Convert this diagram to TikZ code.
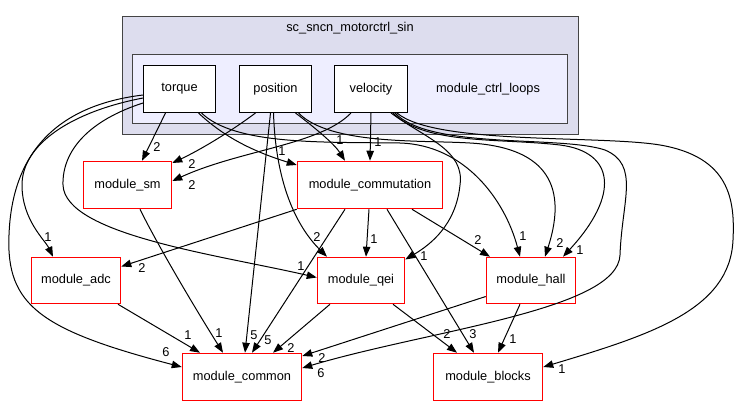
\documentclass[tikz,border=0pt]{standalone}
\usepackage{fontspec}
\setmainfont{Liberation Sans}
\usepackage{tikz}
\usepackage{xcolor}
\usetikzlibrary{positioning,arrows.meta,calc}

\definecolor{outerfill}{HTML}{DDDDEE}
\definecolor{innerfill}{HTML}{EEEEFF}
\definecolor{frame}{HTML}{444444}
\definecolor{modred}{HTML}{FF0000}

\begin{document}
\begin{tikzpicture}[x=0.75pt,y=-0.75pt,
    font=\fontsize{9.6}{11}\selectfont,
    dirbox/.style={draw=black,fill=white,line width=0.75pt,minimum height=35.25pt,minimum width=54pt},
    modbox/.style={fill=modred,text=black,minimum height=36pt,
      path picture={\fill[white] ($(path picture bounding box.north west)+(1.4,1.4)$)
        rectangle ($(path picture bounding box.south east)+(-1.4,-1.4)$);}},
    dep/.style={-{Triangle[length=7.5pt,width=5.6pt]},line width=0.75pt},
    num/.style={inner sep=0pt}]
  \useasboundingbox (0,0) rectangle (739,407);
  % clusters
  \draw[frame,fill=outerfill,line width=0.75pt] (122.5,16.5) rectangle (578.5,134.5);
  \draw[frame,fill=innerfill,line width=0.75pt] (132.5,54.5) rectangle (567.5,123.5);
  \node (sctitle) at (350,28) {sc\_sncn\_motorctrl\_sin};
  \node (looptitle) at (488,89) {module\_ctrl\_loops};
  % directories
  \node[dirbox] (torque) at (179.5,89) {torque};
  \node[dirbox] (position) at (275.5,89) {position};
  \node[dirbox,minimum width=54.75pt] (velocity) at (371,89) {velocity};
  \node[modbox,minimum width=66.75pt] (sm) at (127.5,185) {module\_sm};
  \node[modbox,minimum width=109.5pt] (commutation) at (370,185) {module\_commutation};
  \node[modbox,minimum width=67.5pt,minimum height=35.25pt] (adc) at (76,280.5) {module\_adc};
  \node[modbox,minimum width=66pt,minimum height=35.25pt] (qei) at (361,280.5) {module\_qei};
  \node[modbox,minimum width=67.5pt,minimum height=35.25pt] (hall) at (531,280.5) {module\_hall};
  \node[modbox,minimum width=90pt] (common) at (242,377) {module\_common};
  \node[modbox,minimum width=82.5pt] (blocks) at (488,377) {module\_blocks};
  % torque
  \draw[dep] ($(torque.south)+(-14,0)$) -- ($(sm.north)+(14.5,0)$);
  \draw[dep] ($(torque.west)+(0,9)$) .. controls (70,112) and (22,145) .. (22,185)
    .. controls (22,220) and (45,240) .. ($(adc.north)+(-23,0)$);
  \draw[dep] ($(torque.west)+(0,6)$) .. controls (60,105) and (12,150) .. (9,235)
    .. controls (6,305) and (40,330) .. ($(common.west)+(0,-10)$);
  \draw[dep] ($(torque.west)+(0,14)$) .. controls (90,120) and (62,150) .. (63,185)
    .. controls (65,235) and (220,255) .. ($(qei.west)+(0,-3)$);
  \draw[dep] ($(torque.south)+(19,0)$) .. controls (225,138) and (255,152) .. ($(commutation.west)+(0,-20)$);
  \draw[dep] ($(torque.south)+(22,0)$) .. controls (235,145) and (320,142) .. (400,143)
    .. controls (465,145) and (505,200) .. ($(hall.north)+(-11,0)$);
  % position
  \draw[dep] ($(position.south)+(-20,0)$) .. controls (230,132) and (200,150) .. ($(sm.east)+(0,-22)$);
  \draw[dep] ($(position.south)+(-5,0)$) -- ($(common.north)+(3,0)$);
  \draw[dep] ($(position.south)+(-2,0)$) .. controls (276,190) and (300,230) .. ($(qei.north)+(-34,0)$);
  \draw[dep] ($(position.south)+(20,0)$) .. controls (318,130) and (335,145) .. ($(commutation.north)+(-25,0)$);
  \draw[dep] ($(position.south)+(23,0)$) .. controls (330,145) and (420,140) .. (470,143)
    .. controls (540,147) and (570,180) .. ($(hall.north)+(14,0)$);
  % velocity
  \draw[dep] ($(velocity.south)+(-20,0)$) .. controls (320,145) and (240,150) .. ($(sm.east)+(0,-4)$);
  \draw[dep] (velocity.south) -- (commutation.north);
  \draw[dep] ($(velocity.south)+(20,0)$) .. controls (425,138) and (465,150) .. (460,185)
    .. controls (456,225) and (430,245) .. ($(qei.east)+(0,-21)$);
  \draw[dep] ($(velocity.south)+(22,0)$) .. controls (425,145) and (500,138) .. (560,145)
    .. controls (615,152) and (620,195) .. ($(hall.north)+(32,0)$);
  \draw[dep] ($(velocity.south)+(24,0)$) .. controls (430,150) and (560,135) .. (605,150)
    .. controls (640,165) and (622,200) .. (620,255)
    .. controls (618,310) and (430,330) .. ($(common.east)+(0,-9)$);
  \draw[dep] ($(velocity.south)+(26,0)$) .. controls (435,145) and (600,135) .. (660,145)
    .. controls (730,157) and (735,200) .. (733,240)
    .. controls (730,310) and (650,335) .. ($(blocks.east)+(0,-10)$);
  % module_commutation
  \draw[dep] (commutation.south west) -- ($(adc.east)+(0,-14)$);
  \draw[dep] ($(commutation.south)+(-25,0)$) -- ($(common.north)+(10,0)$);
  \draw[dep] ($(commutation.south)+(-1,0)$) -- ($(qei.north)+(5,0)$);
  \draw[dep] ($(commutation.south)+(17,0)$) -- ($(blocks.north)+(-14,0)$);
  \draw[dep] ($(commutation.south)+(42,0)$) -- ($(hall.north)+(-41,0)$);
  % lower rows
  \draw[dep] ($(sm.south)+(12.5,0)$) .. controls (155,240) and (190,300) .. ($(common.north)+(-19,0)$);
  \draw[dep] ($(adc.south)+(42,0)$) -- ($(common.north)+(-42,0)$);
  \draw[dep] ($(qei.south)+(-31,0)$) -- ($(common.north)+(31,0)$);
  \draw[dep] ($(qei.south)+(32,0)$) -- ($(blocks.north)+(-31,0)$);
  \draw[dep] ($(hall.west)+(0,16)$) -- ($(common.east)+(0,-21)$);
  \draw[dep] ($(hall.south)+(-11,0)$) -- ($(blocks.north)+(10,0)$);
  % edge counts
  \node[num] (n1) at (157,147) {2};
  \node[num] (n2) at (192,164) {2};
  \node[num] (n3) at (192,185) {2};
  \node[num] (n4) at (282,151) {1};
  \node[num] (n5) at (340,140) {1};
  \node[num] (n6) at (378,142) {1};
  \node[num] (n7) at (48,237) {1};
  \node[num] (n8) at (142,268) {2};
  \node[num] (n9) at (317,237) {2};
  \node[num] (n10) at (374,239) {1};
  \node[num] (n11) at (424,256) {1};
  \node[num] (n12) at (301,266) {1};
  \node[num] (n13) at (478,240) {2};
  \node[num] (n14) at (523,236) {1};
  \node[num] (n15) at (560,243) {2};
  \node[num] (n16) at (580,250) {1};
  \node[num] (n17) at (166,352) {6};
  \node[num] (n18) at (188,335) {1};
  \node[num] (n19) at (219,333) {1};
  \node[num] (n20) at (254,335) {5};
  \node[num] (n21) at (268,340) {5};
  \node[num] (n22) at (291,348) {2};
  \node[num] (n23) at (322,358) {2};
  \node[num] (n24) at (321,373) {6};
  \node[num] (n25) at (447,334) {2};
  \node[num] (n26) at (473,334) {3};
  \node[num] (n27) at (513,339) {1};
  \node[num] (n28) at (562,369) {1};
\end{tikzpicture}
\end{document}
